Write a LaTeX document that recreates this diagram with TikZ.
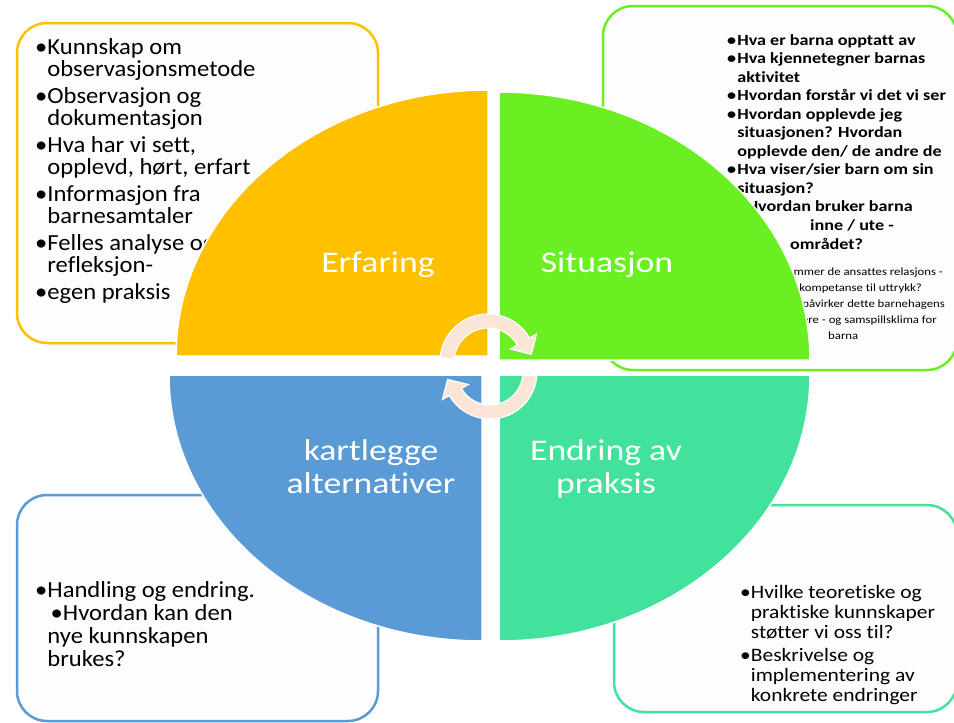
\documentclass[tikz,border=0pt]{standalone}
\usepackage{fontspec}
\setmainfont{Carlito}[Ligatures=NoCommon]
\usepackage{graphicx}
\definecolor{cyel}{HTML}{FFC000}
\definecolor{cgrn}{HTML}{6AEF23}
\definecolor{cblu}{HTML}{5B9BD5}
\definecolor{ctea}{HTML}{43E29C}
\definecolor{cpea}{HTML}{FBE5D6}
\definecolor{cbox}{HTML}{FDFDFD}
% #1 scale, #2 font size, #3 baselineskip, #4 rows
\newcommand{\blist}[4]{\scalebox{#1}[1]{\fontsize{#2}{#3}\selectfont\vtop{\baselineskip=#3\lineskiplimit=-100pt\lineskip=0pt\halign{##\hfil&##\hfil\cr#4\crcr}}}}
\newcommand{\clines}[4]{\scalebox{#1}[1]{\fontsize{#2}{#3}\selectfont\vtop{\baselineskip=#3\lineskiplimit=-100pt\lineskip=0pt\halign{\hfil##\hfil\cr#4\crcr}}}}
\begin{document}
\begin{tikzpicture}[x=1pt,y=-1pt,
  box/.style={draw=#1, line width=2.5pt, fill=cbox, rounded corners=30pt},
  quad/.style={fill=#1, draw=white, line width=1.5pt},
  lbl/.style={text=white, inner sep=0pt},
  txt/.style={inner sep=0pt, text=black},
  cyc/.style={fill=cpea, draw=white, line width=1.2pt}]
\useasboundingbox (0,0) rectangle (954,723);
\fill[white] (0,0) rectangle (954,723);
% text boxes
\draw[box=cyel] (17,23) rectangle (378,343);
\draw[box=cgrn] (603,6) rectangle (957,370);
\draw[box=cblu] (17,495) rectangle (378,721);
\draw[box=ctea] (614,505) rectangle (957,712);
% box texts
\node[txt, anchor=base west] (tl) at (35,54) {\blist{1.07}{23pt}{22pt}{%
\textbullet & Kunnskap om\cr & observasjonsmetode\cr\noalign{\vskip5pt}
\textbullet & Observasjon og\cr & dokumentasjon\cr\noalign{\vskip5pt}
\textbullet & Hva har vi sett,\cr & opplevd, hørt, erfart\cr\noalign{\vskip5pt}
\textbullet & Informasjon fra\cr & barnesamtaler\cr\noalign{\vskip5pt}
\textbullet & Felles analyse og\cr & refleksjon-\cr\noalign{\vskip5pt}
\textbullet & egen praksis\cr}};
\node[txt, anchor=base west] (tr) at (727,45) {\bfseries\blist{1.17}{15.5pt}{18.5pt}{%
\textbullet\hskip1pt & Hva er barna opptatt av\cr
\textbullet\hskip1pt & Hva kjennetegner barnas\cr & aktivitet\cr
\textbullet\hskip1pt & Hvordan forstår vi det vi ser\cr
\textbullet\hskip1pt & Hvordan opplevde jeg\cr & situasjonen? Hvordan\cr & opplevde den/ de andre de\cr
\textbullet\hskip1pt & Hva viser/sier barn om sin\cr & situasjon?\cr
\textbullet\hskip1pt & \hskip8pt Hvordan bruker barna\cr}};
\node[txt, anchor=base west] (tr2) at (810,230) {\bfseries\blist{1.17}{15.5pt}{18.5pt}{& inne / ute -\cr}};
\node[txt, anchor=base west] (tr3) at (790,249) {\bfseries\blist{1.17}{15.5pt}{18.5pt}{& området?\cr}};
\node[txt, anchor=base east] (s1) at (943,275) {\blist{1.16}{11pt}{16pt}{& \textbullet\ Hvordan kommer de ansattes relasjons -\cr}};
\node[txt, anchor=base east] (s2) at (922,291) {\blist{1.16}{11pt}{16pt}{& kompetanse til uttrykk?\cr}};
\node[txt, anchor=base east] (s3) at (945,307) {\blist{1.16}{11pt}{16pt}{& \textbullet\ Hvordan påvirker dette barnehagens\cr}};
\node[txt, anchor=base east] (s4) at (937,323) {\blist{1.16}{11pt}{16pt}{& lære - og samspillsklima for\cr}};
\node[txt, anchor=base west] (s5) at (828,339) {\blist{1.16}{11pt}{16pt}{& barna\cr}};
\node[txt, anchor=base west] (bl) at (35,597) {\blist{1.07}{23pt}{23pt}{%
\textbullet & Handling og endring.\cr
& \hskip3pt\textbullet Hvordan kan den\cr
& nye kunnskapen\cr
& brukes?\cr}};
\node[txt, anchor=base west] (br) at (740,598) {\blist{1.13}{19pt}{20pt}{%
\textbullet & Hvilke teoretiske og\cr & praktiske kunnskaper\cr & støtter vi oss til?\cr\noalign{\vskip3pt}
\textbullet & Beskrivelse og\cr & implementering av\cr & konkrete endringer\cr}};
% quadrants
\draw[quad=cyel] (488,356) -- (176,356) arc[start angle=180,end angle=270,x radius=312,y radius=266] -- cycle;
\draw[quad=cgrn] (499,360) -- (499,92) arc[start angle=270,end angle=360,x radius=311,y radius=268] -- cycle;
\draw[quad=cblu] (482,375) -- (169,375) arc[start angle=180,end angle=90,x radius=313,y radius=266] -- cycle;
\draw[quad=ctea] (499,375) -- (810,375) arc[start angle=0,end angle=90,x radius=311,y radius=266] -- cycle;
% labels
\node[lbl, anchor=base] (q1) at (378,272) {\scalebox{1.19}[1]{\fontsize{30pt}{33pt}\selectfont Erfaring}};
\node[lbl, anchor=base] (q2) at (607,272) {\scalebox{1.19}[1]{\fontsize{30pt}{33pt}\selectfont Situasjon}};
\node[lbl, anchor=base] (q3) at (371,460) {\clines{1.19}{30pt}{33pt}{kartlegge\cr alternativer\cr}};
\node[lbl, anchor=base] (q4) at (606,460) {\clines{1.19}{30pt}{33pt}{Endring av\cr praksis\cr}};
% cycle arrows
\coordinate (ca) at (488,362);
\coordinate (cb) at (490,372);
\draw[cyc] ([shift={(185:48)}]ca) arc[start angle=185,end angle=330,radius=48] -- ([shift={(330:56)}]ca) -- ([shift={(350:44)}]ca) -- ([shift={(330:26)}]ca) -- ([shift={(330:34)}]ca) arc[start angle=330,end angle=185,radius=34] -- cycle;
\draw[cyc] ([shift={(5:47)}]cb) arc[start angle=5,end angle=150,radius=47] -- ([shift={(150:55)}]cb) -- ([shift={(170:43)}]cb) -- ([shift={(150:25)}]cb) -- ([shift={(150:33)}]cb) arc[start angle=150,end angle=5,radius=33] -- cycle;
\end{tikzpicture}
\end{document}
